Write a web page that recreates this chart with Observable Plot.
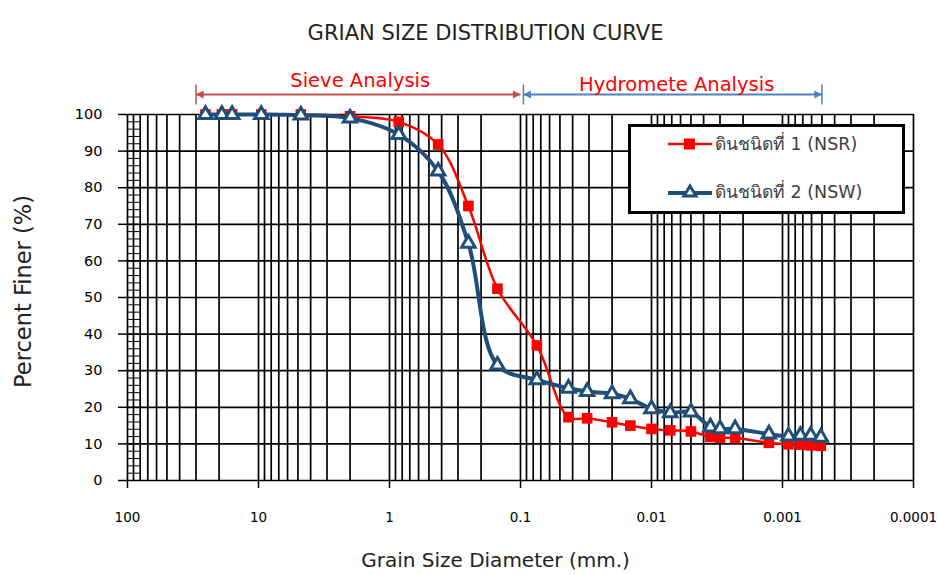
<!DOCTYPE html>
<html><head><meta charset="utf-8">
<script src="https://cdn.jsdelivr.net/npm/d3@7"></script>
<script src="https://cdn.jsdelivr.net/npm/@observablehq/plot@0.6"></script>
<style>
body{margin:0;background:#fff;font-family:"DejaVu Sans",sans-serif}
#wrap{position:relative;width:938px;height:575px;overflow:hidden}
#legend{position:absolute;left:628px;top:124px;width:271px;height:84px;border:3px solid #000;background:#fff}
.row{position:absolute;left:37px;height:24px;display:flex;align-items:center;font-size:17.5px;color:#404040}
.row svg{margin-right:3px}
</style></head>
<body><div id="wrap"></div>
<script>
// ---- data ----
const diameters = [25.4, 19.05, 15.9, 9.53, 4.75, 2.0, 0.85, 0.425, 0.25, 0.15, 0.075,
  0.043, 0.031, 0.020, 0.0145, 0.010, 0.0072, 0.0050, 0.00355, 0.0030, 0.0023, 0.00127, 0.00090, 0.00073, 0.00061, 0.00051];
const nsr = [100, 100, 100, 100, 100, 99.5, 98, 91.8, 75, 52.4, 36.9,
  17.3, 17.0, 15.9, 15.0, 14.1, 13.7, 13.4, 11.9, 11.7, 11.6, 10.3, 9.9, 9.8, 9.6, 9.5];
const nsw = [100, 100, 100, 100, 99.8, 99, 94.5, 84.5, 64.8, 31.5, 27.5,
  25.2, 24.3, 23.7, 22.3, 19.6, 18.5, 18.7, 14.6, 14.1, 14.1, 12.7, 12.1, 12.3, 12.3, 11.8];
const seriesNames = ["ดินชนิดที่ 1 (NSR)", "ดินชนิดที่ 2 (NSW)"];
const xTicks = [100, 10, 1, 0.1, 0.01, 0.001, 0.0001];
const xTickLabels = ["100", "10", "1", "0.1", "0.01", "0.001", "0.0001"];
const minorMultipliers = [1, 2, 3, 4, 5, 6, 7, 8, 9];
const yTicks = [0, 10, 20, 30, 40, 50, 60, 70, 80, 90, 100];
const title = "GRIAN SIZE DISTRIBUTION CURVE";
const xLabel = "Grain Size Diameter (mm.)";
const yLabel = "Percent Finer (%)";
const spanLabels = ["Sieve Analysis", "Hydromete Analysis"];
const spanFrom = [30, 0.095];
const spanTo = [0.1, 0.0005];

// ---- derived tables ----
const rows = diameters.map((d, i) => ({d, nsr: nsr[i], nsw: nsw[i]}));
const gridX = [];
xTicks.slice(1).forEach(dec => minorMultipliers.forEach(m => gridX.push(+(dec * m).toPrecision(6))));
gridX.push(100);
const yMinor = d3.range(0, 100.01, 2);
const labelMap = new Map(xTicks.map((t, i) => [t, xTickLabels[i]]));

const headRight = {draw(ctx, size){const r=Math.sqrt(size/Math.PI);ctx.moveTo(0,0);ctx.lineTo(-1.9*r,-r);ctx.lineTo(-1.9*r,r);ctx.closePath();}};
const headLeft = {draw(ctx, size){const r=Math.sqrt(size/Math.PI);ctx.moveTo(0,0);ctx.lineTo(1.9*r,-r);ctx.lineTo(1.9*r,r);ctx.closePath();}};
const vbar = {draw(ctx, size){const r=Math.sqrt(size/Math.PI);ctx.moveTo(0,-r);ctx.lineTo(0,r);}};

const red = "#FF0000", blue = "#1F4E79";
const sieveC = "#C0504D", hydroC = "#4F81BD";
const ann = [0, 1].map(i => ({label: spanLabels[i], from: spanFrom[i], to: spanTo[i], mid: Math.sqrt(spanFrom[i] * spanTo[i])}));
const font = '"DejaVu Sans",sans-serif';

const chart = Plot.plot({
  width: 938, height: 575,
  marginLeft: 127, marginRight: 25, marginTop: 114, marginBottom: 95,
  x: {type: "log", domain: [100, 0.0001]},
  y: {domain: [0, 100]},
  style: {fontFamily: font, fontSize: "14px", color: "#000", background: "#fff"},
  marks: [
    Plot.ruleX(gridX, {stroke: "#000", strokeWidth: 1.7}),
    Plot.ruleY(yTicks, {stroke: "#000", strokeWidth: 1.7}),
    Plot.ruleY(yMinor, {x1: 100, x2: 80, stroke: "#000", strokeWidth: 1}),
    Plot.axisX(xTicks, {tickSize: 8, tickPadding: 24, tickFormat: d => labelMap.get(d), label: null, fontSize: 13.5, strokeWidth: 1.5}),
    Plot.axisY(yTicks, {tickSize: 9, tickPadding: 16, label: null, fontSize: 14.5, strokeWidth: 1.5}),
    Plot.line(rows, {x: "d", y: "nsr", stroke: red, strokeWidth: 2.5, curve: "catmull-rom"}),
    Plot.dot(rows, {x: "d", y: "nsr", symbol: "square", r: 6, fill: red}),
    Plot.line(rows, {x: "d", y: "nsw", stroke: blue, strokeWidth: 4, curve: "catmull-rom"}),
    Plot.dot(rows, {x: "d", y: "nsw", symbol: "triangle", r: 5, fill: "#fff", stroke: blue, strokeWidth: 3}),
    // annotations
    Plot.link([ann[0]], {x1: "from", x2: "to", y1: 100, y2: 100, dy: -20, stroke: sieveC, strokeWidth: 2}),
    Plot.link([ann[1]], {x1: "from", x2: "to", y1: 100, y2: 100, dy: -20, stroke: hydroC, strokeWidth: 2}),
    Plot.dot([ann[0]], {x: "from", y: 100, dy: -20, symbol: headLeft, r: 4, fill: sieveC, stroke: "none"}),
    Plot.dot([ann[0]], {x: "to", y: 100, dy: -20, symbol: headRight, r: 4, fill: sieveC, stroke: "none"}),
    Plot.dot([ann[1]], {x: "from", y: 100, dy: -20, symbol: headLeft, r: 4, fill: hydroC, stroke: "none"}),
    Plot.dot([ann[1]], {x: "to", y: 100, dy: -20, symbol: headRight, r: 4, fill: hydroC, stroke: "none"}),
    Plot.dot([ann[0]], {x: "from", y: 100, dy: -20, symbol: vbar, r: 10, stroke: sieveC, strokeWidth: 1.5, fill: "none"}),
    Plot.dot([ann[1]], {x: "from", y: 100, dy: -20, symbol: vbar, r: 10, stroke: hydroC, strokeWidth: 1.5, fill: "none"}),
    Plot.dot([ann[1]], {x: "to", y: 100, dy: -20, symbol: vbar, r: 10, stroke: hydroC, strokeWidth: 1.5, fill: "none"}),
    Plot.text([ann[0]], {x: "mid", y: 100, dy: -34, dx: 2, text: "label", fill: red, fontSize: 19.5}),
    Plot.text([ann[1]], {x: "mid", y: 100, dy: -30, dx: 4, text: "label", fill: red, fontSize: 19.5}),
    // titles
    Plot.text([title], {frameAnchor: "top", dy: -89, dx: -35, fontSize: 21, fill: "#222", textAnchor: "middle"}),
    Plot.text([xLabel], {frameAnchor: "bottom", dy: 86, dx: -25, fontSize: 20, fill: "#222", textAnchor: "middle"}),
    Plot.text([yLabel], {frameAnchor: "left", dx: -104, dy: -6, rotate: -90, fontSize: 22.5, fill: "#222", textAnchor: "middle"})
  ]
});
const wrap = document.getElementById("wrap");
wrap.appendChild(chart);

// legend
const legend = document.createElement("div");
legend.id = "legend";
const sw = [
  `<svg width="44" height="20"><line x1="0" y1="10" x2="44" y2="10" stroke="${red}" stroke-width="2.5"/><rect x="16" y="4.5" width="11" height="11" fill="${red}"/></svg>`,
  `<svg width="44" height="20"><line x1="0" y1="11" x2="44" y2="11" stroke="${blue}" stroke-width="4"/><path d="M22,4 L28,14 L16,14 Z" fill="#fff" stroke="${blue}" stroke-width="3"/></svg>`
];
[5, 53].forEach((top, i) => {
  const r = document.createElement("div");
  r.className = "row"; r.style.top = top + "px";
  r.innerHTML = sw[i] + `<span>${seriesNames[i]}</span>`;
  legend.appendChild(r);
});
wrap.appendChild(legend);
</script></body></html>
